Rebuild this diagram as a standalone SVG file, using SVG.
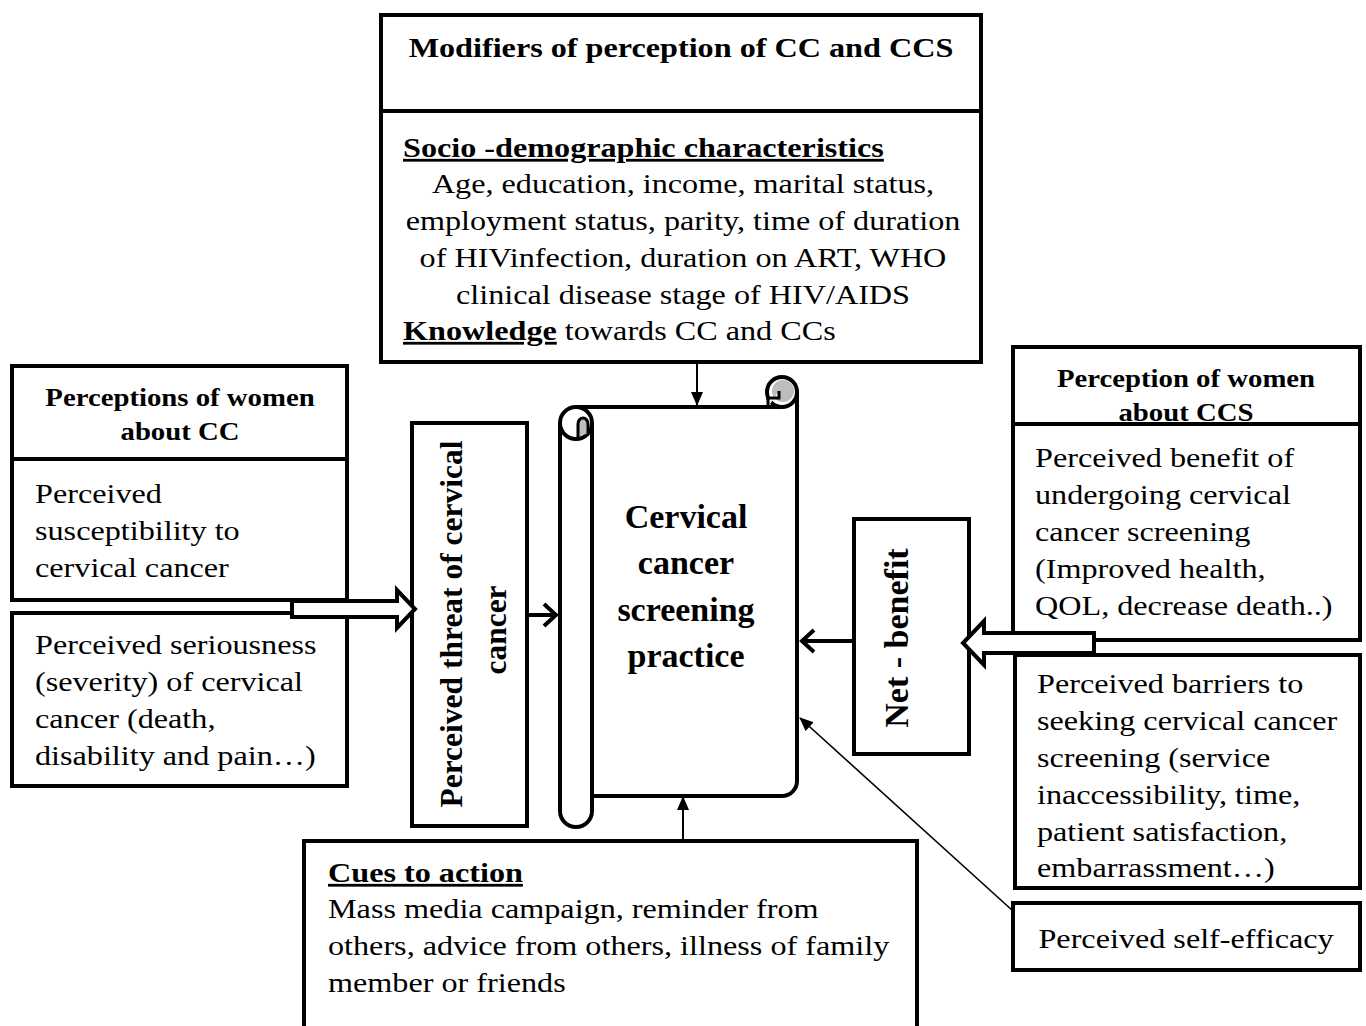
<svg xmlns="http://www.w3.org/2000/svg" width="1366" height="1026" viewBox="0 0 1366 1026">
<style>
.box{fill:#fff;stroke:#000;stroke-width:4}
.ln{fill:none;stroke:#000;stroke-width:4}
.t{font-family:"Liberation Serif","Times New Roman",serif;font-size:28px;fill:#000}
.b{font-weight:bold}
.h{font-family:"Liberation Serif","Times New Roman",serif;font-size:25px;font-weight:bold;fill:#000}
.c{font-family:"Liberation Serif","Times New Roman",serif;font-size:34px;font-weight:bold;fill:#000}
.u{text-decoration:underline}
.thin{fill:none;stroke:#000;stroke-width:2}
.thick{fill:none;stroke:#000;stroke-width:4}
.blk{fill:#fff;stroke:#000;stroke-width:4;stroke-linejoin:miter}
.gray{fill:#bdbdbd;stroke:#000;stroke-width:3}
</style>
<defs>
<marker id="tri" markerUnits="userSpaceOnUse" markerWidth="14" markerHeight="12" refX="13" refY="6" orient="auto"><path d="M0,0 L14,6 L0,12 z" fill="#000"/></marker>
<marker id="chev" markerUnits="userSpaceOnUse" markerWidth="20" markerHeight="26" refX="15" refY="13" orient="auto"><path d="M3,2 L15,13 L3,24" fill="none" stroke="#000" stroke-width="4"/></marker>
</defs>
<rect width="1366" height="1026" fill="#fff"/>

<g id="modifiers">
<rect class="box" x="381" y="15" width="600" height="347"/>
<line class="ln" x1="381" y1="111" x2="981" y2="111"/>
<g transform="translate(681 0) scale(1.15 1)"><text class="t b" x="0" y="57" text-anchor="middle">Modifiers of perception of CC and CCS</text></g>
<g transform="translate(403 0) scale(1.15 1)">
<text class="t b u" x="0" y="157">Socio -demographic characteristics</text>
<text class="t" x="0" y="340"><tspan class="b u">Knowledge</tspan> towards CC and CCs</text>
</g>
<g transform="translate(683 0) scale(1.15 1)" text-anchor="middle">
<text class="t" x="0" y="193">Age, education, income, marital status,</text>
<text class="t" x="0" y="230">employment status, parity, time of duration</text>
<text class="t" x="0" y="267">of HIVinfection, duration on ART, WHO</text>
<text class="t" x="0" y="304">clinical disease stage of HIV/AIDS</text>
</g>
</g>

<g id="perceptions-cc">
<rect class="box" x="12" y="366" width="335" height="234"/>
<line class="ln" x1="12" y1="459" x2="347" y2="459"/>
<g transform="translate(180 0) scale(1.15 1)" text-anchor="middle">
<text class="h" x="0" y="406">Perceptions of women</text>
<text class="h" x="0" y="440">about CC</text>
</g>
<g transform="translate(35 0) scale(1.15 1)">
<text class="t" x="0" y="503">Perceived</text>
<text class="t" x="0" y="540">susceptibility to</text>
<text class="t" x="0" y="577">cervical cancer</text>
</g>
</g>

<g id="seriousness">
<rect class="box" x="12" y="613" width="335" height="173"/>
<g transform="translate(35 0) scale(1.15 1)">
<text class="t" x="0" y="654">Perceived seriousness</text>
<text class="t" x="0" y="691">(severity) of cervical</text>
<text class="t" x="0" y="728">cancer (death,</text>
<text class="t" x="0" y="765">disability and pain…)</text>
</g>
</g>

<g id="threat">
<rect class="box" x="412" y="423" width="115" height="403"/>
<text class="c" style="font-size:31.5px" transform="translate(462 624) rotate(-90)" text-anchor="middle">Perceived threat of cervical</text>
<text class="c" style="font-size:31.5px" transform="translate(506 630) rotate(-90)" text-anchor="middle">cancer</text>
</g>

<g id="practice">
<path class="ln" d="M576,407 H782 M797,392 V781 A15,15 0 0 1 782,796 H592"/>
<path class="box" d="M592,423 V811 A16,16 0 0 1 560,811 V423"/>
<circle class="box" cx="576" cy="423" r="16"/>
<path class="gray" d="M578,437 V424 A5,6 0 0 1 588,424 V433"/>
<circle class="box" cx="782" cy="392" r="15"/>
<circle cx="783" cy="391" r="11" fill="#bdbdbd"/>
<path d="M768,407 V398 H779 V391" fill="#fff" stroke="#000" stroke-width="3"/>
<g text-anchor="middle">
<text class="c" x="686" y="528">Cervical</text>
<text class="c" x="686" y="574">cancer</text>
<text class="c" x="686" y="621">screening</text>
<text class="c" x="686" y="667">practice</text>
</g>
</g>

<g id="net-benefit">
<rect class="box" x="854" y="519" width="115" height="235"/>
<text class="c" transform="translate(908 638) rotate(-90)" text-anchor="middle">Net - benefit</text>
</g>

<g id="perception-ccs">
<rect class="box" x="1013" y="347" width="347" height="293"/>
<g transform="translate(1186 0) scale(1.15 1)" text-anchor="middle">
<text class="h" x="0" y="387">Perception of women</text>
<text class="h" x="0" y="421">about CCS</text>
</g>
<line class="ln" x1="1013" y1="424" x2="1360" y2="424"/>
<g transform="translate(1035 0) scale(1.15 1)">
<text class="t" x="0" y="467">Perceived benefit of</text>
<text class="t" x="0" y="504">undergoing cervical</text>
<text class="t" x="0" y="541">cancer screening</text>
<text class="t" x="0" y="578">(Improved health,</text>
<text class="t" x="0" y="615">QOL, decrease death..)</text>
</g>
</g>

<g id="barriers">
<rect class="box" x="1015" y="655" width="345" height="233"/>
<g transform="translate(1037 0) scale(1.15 1)">
<text class="t" x="0" y="693">Perceived barriers to</text>
<text class="t" x="0" y="730">seeking cervical cancer</text>
<text class="t" x="0" y="767">screening (service</text>
<text class="t" x="0" y="804">inaccessibility, time,</text>
<text class="t" x="0" y="841">patient satisfaction,</text>
<text class="t" x="0" y="877">embarrassment…)</text>
</g>
</g>

<g id="self-efficacy">
<rect class="box" x="1013" y="903" width="347" height="67"/>
<g transform="translate(1186 0) scale(1.15 1)"><text class="t" x="0" y="948" text-anchor="middle">Perceived self-efficacy</text></g>
</g>

<g id="cues">
<rect class="box" x="304" y="841" width="613" height="200"/>
<g transform="translate(328 0) scale(1.15 1)">
<text class="t b u" x="0" y="882">Cues to action</text>
<text class="t" x="0" y="918">Mass media campaign, reminder from</text>
<text class="t" x="0" y="955">others, advice from others, illness of family</text>
<text class="t" x="0" y="992">member or friends</text>
</g>
</g>

<g id="connectors">
<line class="thin" x1="697" y1="362" x2="697" y2="405" marker-end="url(#tri)"/>
<line class="thin" x1="683" y1="841" x2="683" y2="797" marker-end="url(#tri)"/>
<line x1="1013" y1="911" x2="800" y2="718" stroke="#000" stroke-width="1.6" marker-end="url(#tri)"/>
<line class="thick" x1="527" y1="615" x2="556" y2="615" marker-end="url(#chev)"/>
<line class="thick" x1="854" y1="641" x2="802" y2="641" marker-end="url(#chev)"/>
<polygon class="blk" points="292,601 397,601 397,590 415,609 397,628 397,617 292,617"/>
<polygon class="blk" points="1094,633 984,633 984,621 963,643 984,665 984,653 1094,653"/>
</g>
</svg>
